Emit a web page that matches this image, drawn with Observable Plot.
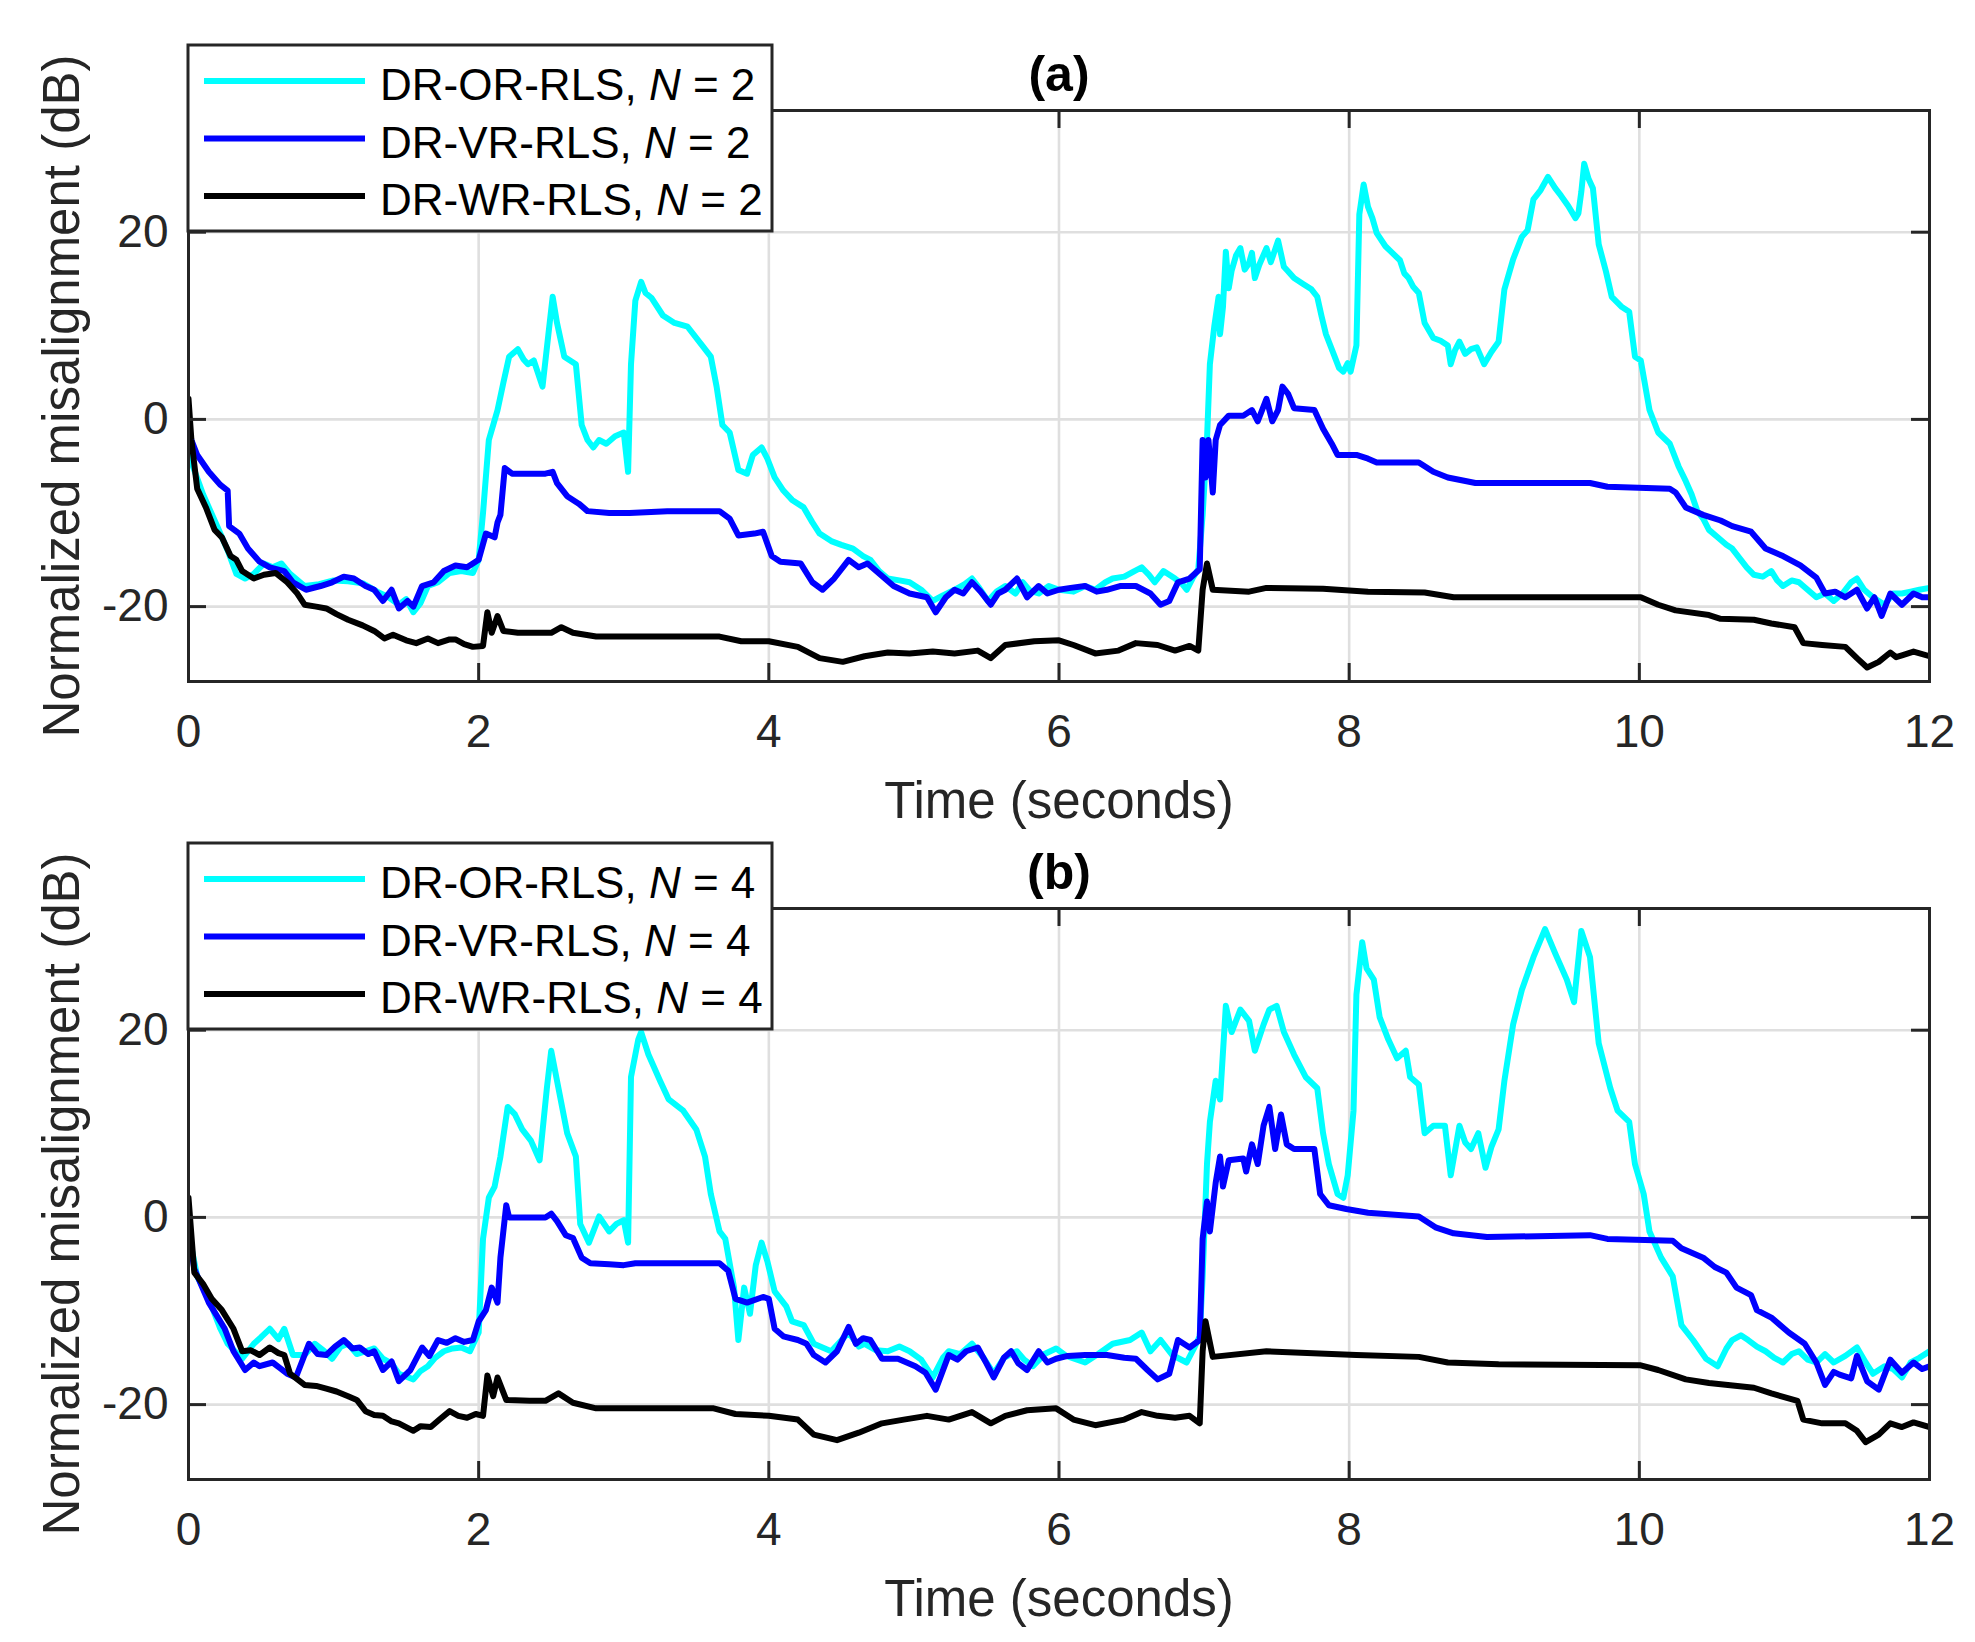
<!DOCTYPE html>
<html><head><meta charset="utf-8">
<script src="https://cdn.jsdelivr.net/npm/d3@7"></script>
<script src="https://cdn.jsdelivr.net/npm/@observablehq/plot@0.6"></script>
<style>
html,body{margin:0;padding:0;background:#fff;overflow:hidden;}
#wrap{position:relative;width:1975px;height:1642px;overflow:hidden;background:#fff;}
.panel{position:absolute;left:0;}
</style></head><body><div id="wrap"></div>
<script>
// ---- tick values ----
const xTicks = [0, 2, 4, 6, 8, 10, 12];
const yTicks = [-20, 0, 20];
const xDomain = [0, 12];
const yDomain = [-28, 33];
const methods = ["DR-OR-RLS", "DR-VR-RLS", "DR-WR-RLS"];
const colors = ["#00ffff", "#0000ff", "#000000"];
const titles = ["(a)", "(b)"];
const nValues = [2, 4];

// ---- panel (a), N = 2 : [time (s), misalignment (dB)] ----
const aOR = [[0,-1.5],[0.03,-5],[0.1,-8],[0.2,-11.5],[0.27,-14],[0.33,-16.5],[0.39,-17],[0.45,-16.5],[0.52,-15.4],[0.58,-15.8],[0.64,-15.4],[0.7,-16.5],[0.8,-17.8],[0.9,-17.6],[1.0,-17.2],[1.1,-17.3],[1.2,-17.5],[1.3,-18.4],[1.38,-19],[1.45,-19.8],[1.5,-19.2],[1.55,-20.6],[1.6,-19.6],[1.65,-17.8],[1.72,-17.4],[1.8,-16.4],[1.88,-16.2],[1.96,-16.4],[2.0,-15],[2.03,-10],[2.07,-2.2],[2.13,1],[2.17,3.9],[2.21,6.7],[2.27,7.5],[2.31,6.4],[2.34,5.9],[2.38,6.3],[2.44,3.5],[2.48,9],[2.51,13.1],[2.54,10.3],[2.59,6.7],[2.67,5.9],[2.71,-0.6],[2.75,-2.2],[2.79,-3],[2.83,-2.2],[2.88,-2.6],[2.94,-1.8],[3.0,-1.4],[3.03,-5.6],[3.05,5.9],[3.08,12.7],[3.12,14.7],[3.15,13.5],[3.19,13],[3.27,11.1],[3.35,10.3],[3.44,9.9],[3.54,7.9],[3.6,6.7],[3.64,3.5],[3.68,-0.6],[3.73,-1.4],[3.79,-5.4],[3.85,-5.8],[3.89,-3.8],[3.95,-3],[3.99,-4.2],[4.04,-6.2],[4.1,-7.6],[4.16,-8.6],[4.24,-9.4],[4.3,-11],[4.35,-12.2],[4.43,-13],[4.5,-13.4],[4.58,-13.8],[4.65,-14.6],[4.7,-15],[4.76,-16.2],[4.82,-17],[4.9,-17.2],[4.97,-17.4],[5.05,-18.2],[5.13,-19.4],[5.2,-18.8],[5.28,-18.2],[5.35,-17.6],[5.4,-17],[5.45,-18],[5.51,-19.4],[5.57,-18.4],[5.63,-17.8],[5.7,-18.6],[5.75,-17.4],[5.8,-18.3],[5.86,-18.6],[5.93,-17.8],[6.0,-18.2],[6.1,-18.4],[6.18,-17.8],[6.25,-18.2],[6.32,-17.4],[6.37,-17],[6.45,-16.8],[6.52,-16.2],[6.57,-15.8],[6.62,-16.6],[6.66,-17.4],[6.72,-16.2],[6.76,-16.6],[6.8,-17],[6.85,-17.6],[6.88,-18.2],[6.92,-17],[6.96,-16],[6.99,-10.2],[7.02,-2.2],[7.04,5.9],[7.07,9.9],[7.1,13.1],[7.11,9.1],[7.13,12],[7.15,17.9],[7.17,14],[7.19,15.9],[7.22,17.5],[7.25,18.3],[7.28,16],[7.31,16.7],[7.33,17.8],[7.35,15.1],[7.38,16.5],[7.43,18.3],[7.46,16.8],[7.51,19.1],[7.55,16.3],[7.58,15.8],[7.62,15.1],[7.68,14.5],[7.74,13.9],[7.78,13.1],[7.81,11],[7.84,9.1],[7.9,6.7],[7.93,5.5],[7.96,5.1],[7.99,6],[8.01,5.1],[8.05,7.9],[8.07,21.9],[8.1,25.1],[8.13,22.7],[8.16,21.5],[8.19,19.9],[8.25,18.5],[8.29,17.9],[8.35,17],[8.38,15.6],[8.41,15.1],[8.44,14.2],[8.48,13.5],[8.52,10.3],[8.58,8.7],[8.63,8.4],[8.68,7.9],[8.7,5.9],[8.73,7.4],[8.76,8.3],[8.8,7],[8.84,7.5],[8.88,7.7],[8.93,5.9],[8.98,7.2],[9.03,8.3],[9.07,13.9],[9.13,17.1],[9.19,19.5],[9.23,20.2],[9.27,23.5],[9.32,24.5],[9.37,25.9],[9.42,24.7],[9.46,23.9],[9.51,22.8],[9.56,21.5],[9.58,22],[9.6,24.3],[9.62,27.3],[9.65,25.7],[9.68,24.7],[9.72,18.7],[9.77,15.8],[9.81,13.1],[9.88,12],[9.93,11.5],[9.97,6.7],[10.01,6.3],[10.07,1],[10.13,-1.4],[10.21,-2.6],[10.27,-5],[10.32,-6.6],[10.36,-8],[10.4,-9.8],[10.44,-10.6],[10.48,-11.8],[10.54,-12.6],[10.6,-13.4],[10.64,-13.8],[10.68,-14.6],[10.74,-15.8],[10.79,-16.6],[10.85,-16.8],[10.91,-16.2],[10.95,-17.2],[10.99,-17.8],[11.05,-17.2],[11.1,-17.4],[11.16,-18.2],[11.22,-19],[11.28,-18.6],[11.34,-19.4],[11.4,-18.6],[11.46,-17.4],[11.5,-17],[11.55,-18.2],[11.61,-19],[11.65,-19.4],[11.69,-19.8],[11.75,-18.6],[11.81,-18.6],[11.87,-18.4],[11.93,-18.2],[12.0,-18]];

const aVR = [[0,-1],[0.02,-2.2],[0.06,-3.8],[0.14,-5.6],[0.22,-7],[0.27,-7.6],[0.28,-11.4],[0.35,-12.2],[0.41,-13.8],[0.49,-15.2],[0.56,-15.8],[0.66,-16.2],[0.72,-17.4],[0.81,-18.2],[0.91,-17.8],[0.99,-17.4],[1.07,-16.8],[1.14,-17],[1.22,-17.8],[1.28,-18.2],[1.34,-19.4],[1.4,-18.2],[1.45,-20.2],[1.51,-19.4],[1.55,-20],[1.61,-17.8],[1.69,-17.4],[1.76,-16.2],[1.84,-15.6],[1.92,-15.8],[2.0,-15],[2.05,-12.2],[2.11,-12.6],[2.13,-11],[2.15,-10.2],[2.18,-5.2],[2.23,-5.8],[2.35,-5.8],[2.46,-5.8],[2.51,-5.6],[2.54,-6.8],[2.61,-8.2],[2.69,-9],[2.75,-9.8],[2.9,-10],[3.04,-10],[3.3,-9.8],[3.66,-9.8],[3.73,-10.6],[3.79,-12.4],[3.9,-12.2],[3.96,-12],[4.02,-14.6],[4.08,-15.2],[4.22,-15.4],[4.3,-17.4],[4.37,-18.2],[4.45,-17],[4.55,-15],[4.62,-15.8],[4.68,-15.4],[4.74,-16.2],[4.86,-17.8],[4.97,-18.6],[5.09,-19],[5.15,-20.6],[5.22,-19],[5.28,-18.2],[5.34,-18.6],[5.4,-17.4],[5.46,-18.4],[5.53,-19.8],[5.58,-18.6],[5.63,-18.2],[5.71,-17],[5.78,-19],[5.86,-17.8],[5.92,-18.6],[6.0,-18.2],[6.08,-18],[6.18,-17.8],[6.26,-18.4],[6.33,-18.2],[6.42,-17.8],[6.53,-17.8],[6.63,-18.6],[6.7,-19.8],[6.76,-19.4],[6.82,-17.4],[6.9,-17],[6.97,-16],[6.99,-2.2],[7.01,-6.2],[7.03,-2.2],[7.06,-7.8],[7.08,-2.2],[7.11,-0.6],[7.17,0.4],[7.27,0.4],[7.33,1],[7.37,-0.2],[7.43,2.2],[7.47,-0.2],[7.51,1],[7.54,3.5],[7.58,2.7],[7.62,1.2],[7.76,1],[7.82,-1],[7.88,-2.6],[7.92,-3.8],[8.05,-3.8],[8.13,-4.2],[8.19,-4.6],[8.48,-4.6],[8.58,-5.6],[8.68,-6.2],[8.87,-6.8],[9.66,-6.8],[9.78,-7.2],[10.21,-7.4],[10.25,-7.8],[10.32,-9.4],[10.44,-10.2],[10.56,-10.8],[10.64,-11.4],[10.77,-12],[10.87,-13.8],[10.99,-14.6],[11.11,-15.6],[11.22,-16.9],[11.28,-18.6],[11.35,-18.4],[11.42,-19],[11.5,-18.2],[11.57,-20.2],[11.62,-19],[11.67,-21],[11.73,-18.6],[11.81,-19.8],[11.89,-18.6],[11.95,-19],[12.0,-19]];

const aWR = [[0,2.2],[0.02,-2.2],[0.06,-7.4],[0.12,-9.4],[0.18,-11.8],[0.23,-12.6],[0.29,-14.6],[0.33,-15],[0.37,-16.2],[0.45,-17],[0.52,-16.6],[0.6,-16.4],[0.68,-17.4],[0.75,-18.6],[0.8,-19.8],[0.88,-20],[0.95,-20.2],[1.02,-20.8],[1.1,-21.4],[1.2,-22],[1.28,-22.6],[1.35,-23.4],[1.41,-23],[1.5,-23.6],[1.57,-23.9],[1.65,-23.4],[1.72,-23.9],[1.8,-23.5],[1.84,-23.5],[1.9,-24],[1.96,-24.3],[2.03,-24.2],[2.06,-20.6],[2.09,-22.8],[2.13,-21],[2.17,-22.6],[2.27,-22.8],[2.4,-22.8],[2.5,-22.8],[2.57,-22.2],[2.65,-22.8],[2.81,-23.2],[3.2,-23.2],[3.66,-23.2],[3.81,-23.7],[4.0,-23.7],[4.2,-24.3],[4.35,-25.5],[4.51,-25.9],[4.66,-25.3],[4.82,-24.9],[4.97,-25],[5.13,-24.8],[5.28,-25],[5.44,-24.7],[5.53,-25.5],[5.63,-24.1],[5.83,-23.7],[6.0,-23.6],[6.1,-24.1],[6.25,-25],[6.41,-24.7],[6.53,-23.9],[6.68,-24.1],[6.8,-24.7],[6.9,-24.2],[6.96,-24.7],[6.99,-18.2],[7.02,-15.4],[7.06,-18.2],[7.31,-18.4],[7.43,-18],[7.82,-18.1],[8.13,-18.4],[8.52,-18.5],[8.72,-19],[10.01,-19],[10.13,-19.8],[10.25,-20.4],[10.48,-20.9],[10.56,-21.3],[10.79,-21.4],[10.91,-21.8],[11.07,-22.2],[11.13,-23.9],[11.26,-24.1],[11.42,-24.3],[11.5,-25.5],[11.57,-26.5],[11.65,-25.9],[11.73,-24.9],[11.77,-25.4],[11.81,-25.2],[11.89,-24.8],[12.0,-25.3]];

// ---- panel (b), N = 4 ----
const bOR = [[0,-1.5],[0.03,-4],[0.06,-6.3],[0.14,-8.7],[0.22,-11.9],[0.27,-13.5],[0.37,-15.1],[0.45,-13.5],[0.5,-12.8],[0.56,-11.9],[0.62,-13],[0.66,-11.9],[0.72,-14.7],[0.8,-14.7],[0.87,-13.5],[0.93,-14.2],[0.99,-15.1],[1.05,-13.8],[1.1,-13.5],[1.16,-14.6],[1.22,-14.3],[1.28,-14],[1.34,-15.1],[1.4,-15.6],[1.45,-16.7],[1.55,-17.3],[1.6,-16.4],[1.65,-15.9],[1.7,-15],[1.76,-14.3],[1.82,-14],[1.88,-13.9],[1.94,-14.3],[2.0,-12.3],[2.03,-2.3],[2.07,2.1],[2.11,3.3],[2.15,6.5],[2.2,11.8],[2.25,11],[2.3,9.4],[2.36,8.2],[2.42,6.1],[2.47,13.8],[2.5,17.8],[2.54,14.6],[2.61,9],[2.67,6.5],[2.7,-0.7],[2.76,-2.7],[2.83,0.1],[2.9,-1.5],[2.95,-0.7],[3.0,-0.3],[3.03,-2.7],[3.05,15],[3.1,19],[3.12,19.8],[3.17,17.4],[3.25,14.6],[3.31,12.6],[3.41,11.4],[3.5,9.4],[3.56,6.5],[3.6,2.5],[3.66,-1.5],[3.7,-2.3],[3.76,-7.5],[3.79,-13.1],[3.83,-7.5],[3.87,-10.3],[3.91,-5.1],[3.95,-2.7],[3.99,-4.7],[4.04,-7.9],[4.12,-9.5],[4.16,-11.1],[4.24,-11.5],[4.31,-13.5],[4.43,-14.3],[4.55,-12.3],[4.62,-13.8],[4.66,-13.5],[4.74,-14.2],[4.82,-14.3],[4.9,-13.8],[4.97,-14.3],[5.05,-15.2],[5.13,-17.1],[5.2,-15],[5.24,-14.3],[5.32,-14.6],[5.4,-13.5],[5.48,-15],[5.55,-16.7],[5.62,-15],[5.71,-14.3],[5.76,-15.2],[5.82,-15.9],[5.9,-14.6],[5.98,-14],[6.05,-14.8],[6.18,-15.5],[6.27,-14.6],[6.37,-13.5],[6.49,-13.1],[6.57,-12.3],[6.63,-14.3],[6.7,-13.1],[6.78,-14.7],[6.88,-15.5],[6.93,-14],[6.97,-12.7],[6.99,-6.3],[7.02,5.7],[7.04,10.2],[7.08,14.6],[7.11,12.6],[7.15,22.6],[7.19,19.8],[7.25,22.2],[7.31,21],[7.35,17.8],[7.41,20.6],[7.45,22.2],[7.5,22.6],[7.55,19.8],[7.62,17.4],[7.7,15],[7.78,13.8],[7.82,9],[7.86,5.7],[7.92,2.5],[7.96,2.1],[7.99,4.5],[8.03,11.4],[8.05,23.8],[8.09,29.4],[8.12,26.6],[8.17,25.4],[8.21,21.4],[8.27,19],[8.33,17],[8.39,17.8],[8.42,15],[8.48,14.2],[8.52,9],[8.58,9.8],[8.66,9.8],[8.7,4.5],[8.76,9.8],[8.8,8],[8.84,7.3],[8.89,9],[8.94,5.3],[8.98,7.5],[9.03,9.4],[9.07,14.6],[9.13,20.6],[9.19,24.3],[9.27,27.8],[9.35,30.8],[9.42,28.2],[9.5,25.4],[9.55,23],[9.6,30.6],[9.66,27.8],[9.72,18.6],[9.8,13.8],[9.85,11.4],[9.93,10.2],[9.97,5.7],[10.03,2.5],[10.07,-1.5],[10.15,-4.3],[10.23,-6.3],[10.29,-11.5],[10.37,-13.1],[10.46,-15.1],[10.54,-15.9],[10.6,-14],[10.64,-13.1],[10.7,-12.6],[10.75,-13.1],[10.81,-13.8],[10.87,-14.3],[10.93,-15],[10.99,-15.5],[11.05,-14.6],[11.1,-14.3],[11.16,-15.2],[11.22,-15.5],[11.28,-14.6],[11.34,-15.5],[11.42,-14.8],[11.5,-13.9],[11.56,-15.5],[11.61,-16.7],[11.69,-15.9],[11.75,-16.2],[11.81,-17.1],[11.87,-15.5],[11.93,-15],[12.0,-14.3]];

const bVR = [[0,-1.5],[0.04,-5.5],[0.14,-9.1],[0.25,-11.9],[0.31,-14.3],[0.39,-16.3],[0.45,-15.5],[0.49,-15.9],[0.58,-15.5],[0.64,-16.2],[0.68,-16.7],[0.74,-17.1],[0.83,-13.5],[0.89,-14.6],[0.95,-14.7],[1.01,-13.8],[1.07,-13.1],[1.13,-14],[1.18,-13.9],[1.24,-14.6],[1.28,-14.3],[1.34,-16.3],[1.4,-15.4],[1.45,-17.5],[1.53,-16.3],[1.61,-13.9],[1.66,-14.8],[1.72,-13.1],[1.78,-13.4],[1.84,-12.9],[1.9,-13.3],[1.96,-13.1],[2.0,-11.1],[2.05,-9.9],[2.09,-7.5],[2.13,-9.1],[2.15,-4.3],[2.19,1.3],[2.21,0],[2.3,0],[2.46,0],[2.5,0.4],[2.54,-0.4],[2.6,-1.9],[2.65,-2.2],[2.71,-4.3],[2.77,-4.9],[2.9,-5],[3.0,-5.1],[3.08,-4.9],[3.66,-4.9],[3.72,-5.7],[3.77,-8.7],[3.85,-9.1],[3.96,-8.5],[4.0,-8.7],[4.04,-11.9],[4.1,-12.7],[4.2,-13.1],[4.26,-13.5],[4.31,-14.7],[4.39,-15.5],[4.47,-14.3],[4.55,-11.7],[4.6,-13.5],[4.65,-12.9],[4.7,-13.1],[4.78,-15.1],[4.89,-15.1],[5.01,-15.9],[5.08,-16.6],[5.15,-18.4],[5.24,-14.7],[5.3,-15.2],[5.36,-14.3],[5.44,-13.9],[5.5,-15.6],[5.55,-17.1],[5.62,-15],[5.67,-14.3],[5.72,-15.6],[5.78,-16.3],[5.86,-14.3],[5.92,-15.5],[5.98,-15.1],[6.06,-14.8],[6.18,-14.7],[6.33,-14.7],[6.45,-15],[6.53,-15.1],[6.61,-16.3],[6.68,-17.3],[6.76,-16.7],[6.82,-13.1],[6.9,-13.9],[6.97,-13.1],[6.99,-2.3],[7.02,1.7],[7.04,-1.5],[7.08,3.7],[7.11,6.5],[7.13,3.3],[7.17,6.1],[7.27,6.3],[7.29,4.9],[7.33,7.8],[7.37,5.7],[7.41,9.8],[7.45,11.8],[7.49,7.3],[7.53,11],[7.57,7.8],[7.62,7.3],[7.76,7.3],[7.8,2.5],[7.86,1.3],[7.98,0.9],[8.13,0.5],[8.48,0.1],[8.6,-1.1],[8.72,-1.7],[8.95,-2.1],[9.66,-1.9],[9.78,-2.3],[10.23,-2.5],[10.29,-3.3],[10.44,-4.3],[10.52,-5.3],[10.6,-5.9],[10.67,-7.5],[10.77,-8.3],[10.81,-9.9],[10.91,-10.7],[11.03,-12.3],[11.14,-13.5],[11.22,-15.5],[11.28,-17.9],[11.34,-16.5],[11.38,-16.8],[11.46,-17.2],[11.5,-14.8],[11.57,-17.5],[11.65,-18.4],[11.73,-15.2],[11.81,-16.6],[11.89,-15.5],[11.95,-16.2],[12.0,-15.9]];

const bWR = [[0,2.1],[0.04,-5.9],[0.1,-7.1],[0.16,-8.7],[0.23,-9.9],[0.31,-11.9],[0.37,-14.3],[0.43,-14.2],[0.49,-14.7],[0.56,-13.9],[0.62,-14.5],[0.66,-14.7],[0.7,-16.7],[0.8,-17.9],[0.88,-18],[0.95,-18.3],[1.02,-18.6],[1.1,-19.1],[1.16,-19.5],[1.22,-20.7],[1.28,-21.1],[1.34,-21.2],[1.4,-21.8],[1.45,-22],[1.55,-22.8],[1.6,-22.3],[1.67,-22.4],[1.73,-21.6],[1.8,-20.7],[1.86,-21.2],[1.92,-21.4],[1.98,-21],[2.03,-21.2],[2.06,-16.9],[2.1,-19.1],[2.13,-17.1],[2.19,-19.5],[2.35,-19.6],[2.46,-19.6],[2.55,-18.8],[2.65,-19.8],[2.81,-20.4],[3.2,-20.4],[3.62,-20.4],[3.77,-21],[4.0,-21.2],[4.2,-21.6],[4.31,-23.2],[4.47,-23.8],[4.62,-23],[4.78,-22],[4.93,-21.6],[5.09,-21.2],[5.24,-21.6],[5.4,-20.8],[5.53,-22],[5.63,-21.2],[5.78,-20.6],[5.98,-20.4],[6.1,-21.6],[6.25,-22.2],[6.45,-21.6],[6.57,-20.8],[6.68,-21.2],[6.8,-21.4],[6.9,-21.2],[6.97,-22],[6.99,-14.3],[7.01,-11.1],[7.06,-14.9],[7.43,-14.3],[8.05,-14.7],[8.48,-14.9],[8.68,-15.5],[9.03,-15.7],[10.01,-15.8],[10.13,-16.3],[10.32,-17.3],[10.48,-17.7],[10.79,-18.2],[10.91,-18.8],[11.09,-19.6],[11.13,-21.6],[11.26,-22],[11.42,-22],[11.5,-22.8],[11.56,-24],[11.65,-23.2],[11.73,-22],[11.81,-22.4],[11.89,-21.9],[12.0,-22.4]];

const FONT = "'Liberation Sans', Arial, Helvetica, sans-serif";
const AX = "#262626";

function toRows(arr) { return arr.map(([t, v]) => ({t, v})); }

function panel(title, seriesList, nVal, H) {
  const frameTop = 110, frameBottom = 681, frameLeft = 188, frameRight = 1929;
  const fh = frameBottom - frameTop, fw = frameRight - frameLeft;
  const tk = 18;
  const plot = Plot.plot({
    width: 1975, height: H,
    marginTop: frameTop, marginLeft: frameLeft, marginRight: 1975 - frameRight, marginBottom: H - frameBottom,
    x: {domain: xDomain},
    y: {domain: yDomain},
    style: {fontFamily: FONT, background: "transparent", overflow: "visible"},
    marks: [
      Plot.gridX(xTicks, {stroke: "#dfdfdf", strokeOpacity: 1, strokeWidth: 2.6}),
      Plot.gridY(yTicks, {stroke: "#dfdfdf", strokeOpacity: 1, strokeWidth: 2.6}),
      ...seriesList.map((s, i) => Plot.line(toRows(s), {x: "t", y: "v", stroke: colors[i], strokeWidth: 6, strokeLinejoin: "round", clip: true})),
      Plot.frame({stroke: AX, strokeWidth: 3}),
      Plot.tickX(xTicks, {x: d => d, insetTop: fh - tk, stroke: AX, strokeWidth: 3}),
      Plot.tickX(xTicks, {x: d => d, insetBottom: fh - tk, stroke: AX, strokeWidth: 3}),
      Plot.tickY(yTicks, {y: d => d, insetRight: fw - tk, stroke: AX, strokeWidth: 3}),
      Plot.tickY(yTicks, {y: d => d, insetLeft: fw - tk, stroke: AX, strokeWidth: 3}),
      Plot.axisX(xTicks, {anchor: "bottom", tickSize: 0, tickPadding: 33, fontSize: 46, fill: AX, tickFormat: d => String(d), label: null}),
      Plot.axisY(yTicks, {anchor: "left", tickSize: 0, tickPadding: 20, fontSize: 46, fill: AX, tickFormat: d => String(d), label: null}),
      Plot.text([title], {text: d => d, frameAnchor: "top", dy: -20, lineAnchor: "bottom", textAnchor: "middle", fontSize: 50, fontWeight: "bold", fill: "#000"}),
      Plot.text(["Time (seconds)"], {text: d => d, frameAnchor: "bottom", dy: 136, lineAnchor: "bottom", textAnchor: "middle", fontSize: 51, fill: AX}),
      Plot.text(["Normalized misalignment (dB)"], {text: d => d, frameAnchor: "left", dx: -110, rotate: -90, lineAnchor: "bottom", textAnchor: "middle", fontSize: 51, fill: AX})
    ]
  });
  // legend box (north-west, overlapping frame top)
  const svg = d3.select(plot);
  const g = svg.append("g").attr("font-family", FONT).attr("text-anchor", "start");
  g.append("rect").attr("x", 188).attr("y", 45).attr("width", 584).attr("height", 186)
    .attr("fill", "#fff").attr("stroke", AX).attr("stroke-width", 3);
  methods.forEach((m, i) => {
    const y = 81 + i * 57.5;
    g.append("line").attr("x1", 204).attr("x2", 365).attr("y1", y).attr("y2", y)
      .attr("stroke", colors[i]).attr("stroke-width", 6);
    const t = g.append("text").attr("x", 380).attr("y", y + 19).attr("font-size", 44)
      .attr("fill", "#000").attr("text-anchor", "start");
    t.append("tspan").text(m + ", ");
    t.append("tspan").attr("font-style", "italic").text("N");
    t.append("tspan").text(" = " + nVal);
  });
  return plot;
}

const wrap = document.getElementById("wrap");
const pa = panel(titles[0], [aOR, aVR, aWR], nValues[0], 840);
pa.classList.add("panel"); pa.style.top = "0px";
wrap.appendChild(pa);
const pb = panel(titles[1], [bOR, bVR, bWR], nValues[1], 844);
pb.classList.add("panel"); pb.style.top = "798px";
wrap.appendChild(pb);
</script>
</body></html>
